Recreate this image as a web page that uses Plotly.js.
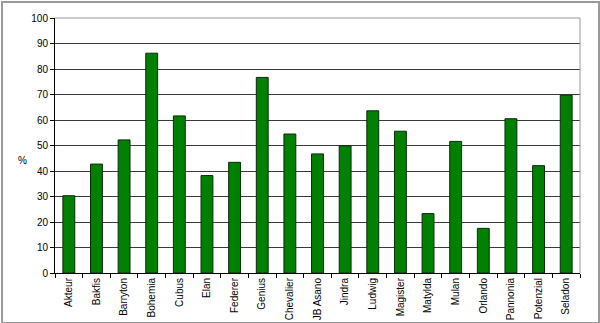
<!DOCTYPE html>
<html><head><meta charset="utf-8">
<script src="https://cdn.plot.ly/plotly-3.0.1.min.js"></script>
<style>
html,body{margin:0;padding:0;background:#fff;}
#frame{position:absolute;left:1px;top:1px;width:595px;height:319px;border:2px solid #9a9a9a;}
#chart{position:absolute;left:0;top:0;width:600px;height:323px;}
</style></head>
<body>
<div id="chart"></div>
<div id="frame"></div>
<script>
const categories = ["Akteur","Bakfis","Barryton","Bohemia","Cubus","Elan","Federer","Genius","Chevalier","JB Asano","Jindra","Ludwig","Magister","Matylda","Mulan","Orlando","Pannonia","Potenzial","Seladon"];
const values = [30.3,42.7,52.2,86.2,61.6,38.2,43.4,76.7,54.5,46.7,49.9,63.6,55.6,23.3,51.6,17.5,60.5,42.1,69.7];
const yTicks = [0,10,20,30,40,50,60,70,80,90,100];

const trace = {
  type:'bar', x:categories, y:values,
  marker:{color:'#008000', line:{color:'#0a2a0a', width:1}},
  hoverinfo:'none'
};
const layout = {
  width:600, height:323,
  margin:{l:55, r:20, t:18, b:50},
  paper_bgcolor:'rgba(0,0,0,0)', plot_bgcolor:'#fff',
  bargap:0.57,
  showlegend:false,
  font:{family:'Liberation Sans, Arial, sans-serif', size:10, color:'#000'},
  xaxis:{type:'category', tickangle:-90, showgrid:false, showline:true, linecolor:'#000', linewidth:1,
    ticks:'outside', ticklen:4, tickcolor:'#000', tickson:'boundaries', tickfont:{size:10, color:'#000'}},
  yaxis:{range:[0,100], tickvals:yTicks, ticktext:yTicks.map(String), showgrid:true, gridcolor:'#3a3a3a', gridwidth:1,
    showline:true, linecolor:'#000', linewidth:1, ticks:'outside', ticklen:4, tickcolor:'#000', zeroline:false,
    tickfont:{size:10, color:'#000'}},
  shapes:[
    {type:'line', xref:'paper', yref:'paper', x0:0, x1:1, y0:1, y1:1, line:{color:'#999', width:1}, layer:'above'},
    {type:'line', xref:'paper', yref:'paper', x0:1, x1:1, y0:0, y1:1, line:{color:'#999', width:1}, layer:'above'}
  ],
  annotations:[{text:'%', xref:'paper', yref:'paper', x:-0.062, y:0.44, showarrow:false, xanchor:'center', yanchor:'middle', font:{size:10, color:'#000'}}]
};
Plotly.newPlot('chart',[trace],layout,{staticPlot:true, displayModeBar:false});
</script>
</body></html>
